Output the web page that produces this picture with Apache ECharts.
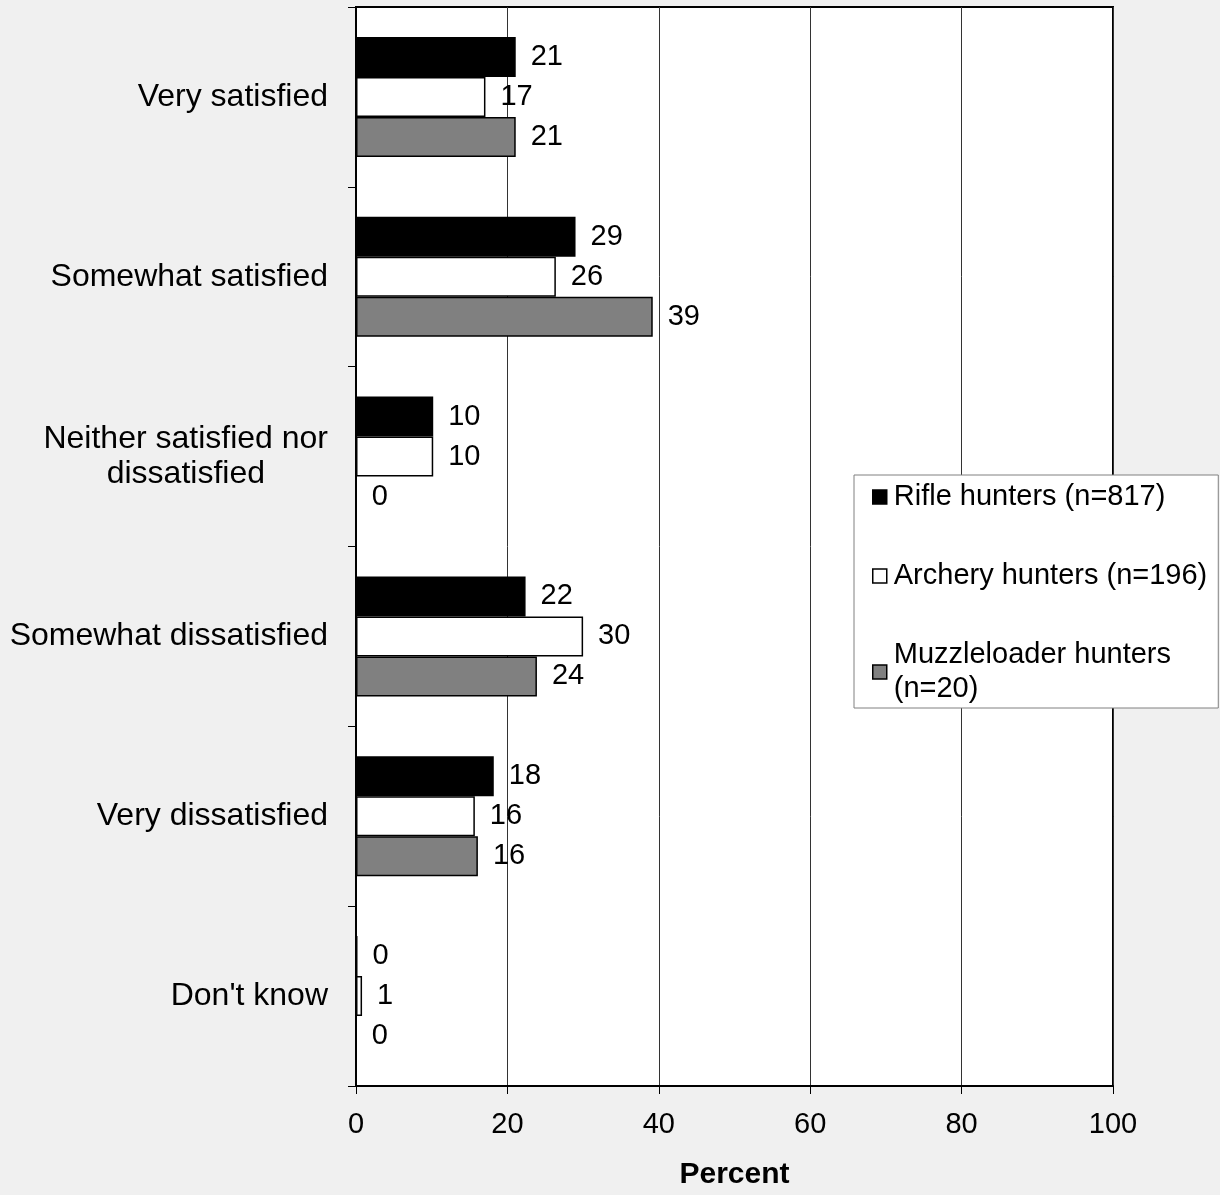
<!DOCTYPE html>
<html>
<head>
<meta charset="utf-8">
<script src="https://cdn.jsdelivr.net/npm/echarts@6/dist/echarts.min.js"></script>
<style>
html,body{margin:0;padding:0;background:#f0f0f0;}
#chart{width:1220px;height:1195px;}
</style>
</head>
<body>
<div id="chart"></div>
<script>
var categories = ['Very satisfied', 'Somewhat satisfied', 'Neither satisfied nor dissatisfied', 'Somewhat dissatisfied', 'Very dissatisfied', "Don't know"];
var seriesNames = ['Rifle hunters (n=817)', 'Archery hunters (n=196)', 'Muzzleloader hunters\n(n=20)'];
var rifle = [21.1, 29.0, 10.2, 22.4, 18.2, 0.2];
var archery = [17.1, 26.4, 10.2, 30.0, 15.7, 0.8];
var muzzle = [21.1, 39.2, 0, 23.9, 16.1, 0];
var xTicks = [0, 20, 40, 60, 80, 100];

var FONT = 'Liberation Sans, Arial, sans-serif';
var chart = echarts.init(document.getElementById('chart'), null, {renderer: 'canvas'});

function mkSeries(name, data, color) {
  return {
    name: name,
    type: 'bar',
    data: data,
    barGap: '0%',
    barCategoryGap: '33.3%',
    itemStyle: {color: color, borderColor: '#000', borderWidth: 1.5},
    label: {
      show: true, position: 'right', distance: 15,
      fontFamily: FONT, fontSize: 29, color: '#000',
      formatter: function (p) { return Math.round(p.value); }
    }
  };
}

chart.setOption({
  backgroundColor: '#f0f0f0',
  animation: false,
  textStyle: {fontFamily: FONT},
  grid: {
    left: 356, right: 107, top: 7, bottom: 107,
    show: true, backgroundColor: '#ffffff', borderColor: '#000', borderWidth: 2
  },
  legend: {
    orient: 'vertical',
    left: 854, top: 475,
    backgroundColor: '#ffffff',
    borderColor: '#808080', borderWidth: 1,
    padding: [5, 11, 2, 18],
    itemGap: 45,
    itemWidth: 14, itemHeight: 14,
    icon: 'rect',
    data: seriesNames,
    textStyle: {fontFamily: FONT, fontSize: 29, color: '#000', lineHeight: 34, padding: [0, 0, 0, 2]},
    itemStyle: {borderColor: '#000', borderWidth: 1.5}
  },
  xAxis: {
    type: 'value', min: 0, max: 100, interval: 20,
    name: 'Percent', nameLocation: 'middle', nameGap: 74,
    nameTextStyle: {fontFamily: FONT, fontSize: 30, fontWeight: 'bold', color: '#000'},
    axisLine: {show: true, lineStyle: {color: '#000', width: 2}},
    axisTick: {show: true, length: 8, lineStyle: {color: '#000'}},
    axisLabel: {fontFamily: FONT, fontSize: 29, color: '#000', margin: 24,
      formatter: function (v) { return xTicks.indexOf(v) >= 0 ? String(v) : ''; }},
    splitLine: {show: true, lineStyle: {color: '#333', width: 1}}
  },
  yAxis: {
    type: 'category', inverse: true, data: categories,
    axisLine: {show: true, lineStyle: {color: '#000', width: 2}},
    axisTick: {show: true, length: 8, inside: false, lineStyle: {color: '#000'}},
    axisLabel: {
      fontFamily: FONT, fontSize: 32, color: '#000', margin: 28, lineHeight: 35,
      formatter: function (v) {
        if (v === 'Neither satisfied nor dissatisfied') {
          return '{a|Neither satisfied nor}\n{b|dissatisfied}';
        }
        return v;
      },
      rich: {
        a: {fontFamily: FONT, fontSize: 32, color: '#000', lineHeight: 35},
        b: {fontFamily: FONT, fontSize: 32, color: '#000', lineHeight: 35, padding: [0, 63, 0, 0]}
      }
    }
  },
  series: [
    mkSeries(seriesNames[0], rifle, '#000000'),
    mkSeries(seriesNames[1], archery, '#ffffff'),
    mkSeries(seriesNames[2], muzzle, '#808080')
  ]
});
</script>
</body>
</html>
